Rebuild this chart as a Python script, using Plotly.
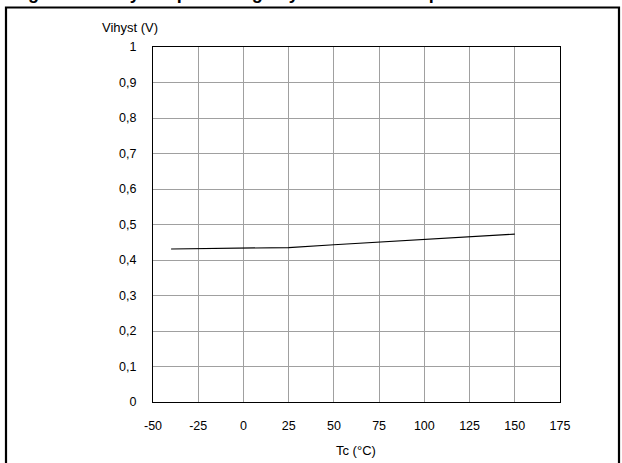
import plotly.graph_objects as go

temps = [-40, 0, 25, 50, 75, 100, 125, 150]
vihyst = [0.431, 0.433, 0.435, 0.443, 0.451, 0.458, 0.466, 0.473]

x_ticks = [-50, -25, 0, 25, 50, 75, 100, 125, 150, 175]
y_ticks = [0, 0.1, 0.2, 0.3, 0.4, 0.5, 0.6, 0.7, 0.8, 0.9, 1]
y_labels = ["0", "0,1", "0,2", "0,3", "0,4", "0,5", "0,6", "0,7", "0,8", "0,9", "1"]

FONT = "Liberation Sans, Arial, sans-serif"

fig = go.Figure()
fig.add_trace(go.Scatter(x=temps, y=vihyst, mode="lines",
                         line=dict(color="black", width=1.2),
                         showlegend=False, hoverinfo="skip"))

W, H = 622, 463
L, R, T, B = 153, 62, 47, 61
pw = W - L - R
ph = H - T - B

def px_x(px):
    return (px - L) / pw

def px_y(py):
    return (H - B - py) / ph

fig.update_layout(
    width=W, height=H,
    margin=dict(l=L, r=R, t=T, b=B),
    paper_bgcolor="white", plot_bgcolor="white",
    font=dict(family=FONT, size=12, color="black"),
    xaxis=dict(range=[-50, 175], tickvals=x_ticks, ticktext=[str(v) for v in x_ticks],
               showgrid=True, gridcolor="#a0a0a0", gridwidth=1,
               showline=True, linecolor="black", linewidth=1.3, mirror=True,
               zeroline=False, ticks="", ticklen=0, ticklabelstandoff=12,
               tickfont=dict(family=FONT, size=12.5)),
    yaxis=dict(range=[0, 1], tickvals=y_ticks, ticktext=y_labels,
               showgrid=True, gridcolor="#a0a0a0", gridwidth=1,
               showline=True, linecolor="black", linewidth=1.3, mirror=True,
               zeroline=False, ticks="", ticklen=0, ticklabelstandoff=13,
               tickfont=dict(family=FONT, size=12.5)),
)

# axis titles
fig.add_annotation(text="Vihyst (V)", xref="paper", yref="paper",
                   x=px_x(130), y=px_y(27), xanchor="center", yanchor="middle",
                   showarrow=False, font=dict(family=FONT, size=13))
fig.add_annotation(text="Tc (°C)", xref="paper", yref="paper",
                   x=px_x(356), y=px_y(450), xanchor="center", yanchor="middle",
                   showarrow=False, font=dict(family=FONT, size=13))

# clipped figure title at very top (only descenders remain visible)
fig.add_annotation(text="<b>Figure 12. Vihyst input voltage hysteresis vs temperature</b>",
                   xref="paper", yref="paper",
                   x=px_x(10), y=px_y(5.5), xanchor="left", yanchor="bottom",
                   showarrow=False, font=dict(family=FONT, size=18))

# outer frame
fig.add_shape(type="rect", xref="paper", yref="paper",
              x0=px_x(6), x1=px_x(619), y0=px_y(470), y1=px_y(7.5),
              line=dict(color="black", width=2.2), fillcolor="rgba(0,0,0,0)", layer="above")

fig.write_html("out.html", config={"displayModeBar": False},
               post_script="document.body.style.margin='0';document.body.style.overflow='hidden';")
